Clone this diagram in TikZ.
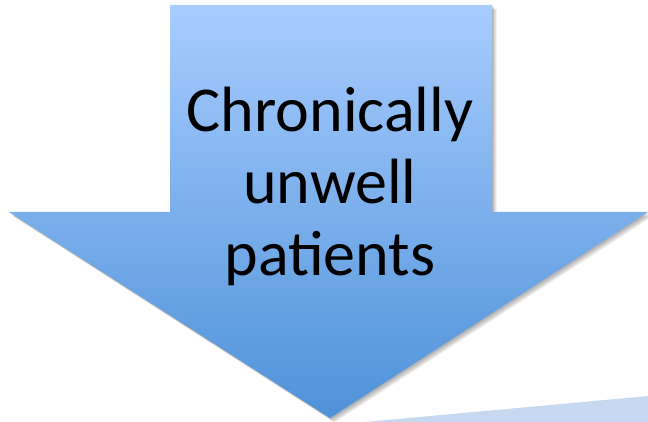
\documentclass[tikz,border=0pt]{standalone}
\usepackage{fontspec}
\setmainfont{Carlito}
\usetikzlibrary{positioning}

\definecolor{arrowtop}{RGB}{168,204,255}
\definecolor{arrowbottom}{RGB}{78,146,216}
\definecolor{nextshape}{RGB}{198,217,241}

\begin{document}
\begin{tikzpicture}[x=1pt, y=-1pt,
    arrowfill/.style = {top color=arrowtop, bottom color=arrowbottom, draw=none},
    arrowshadow/.style = {fill=black, opacity=0.07},
    label/.style = {font=\fontsize{64}{72}\selectfont, align=center, inner sep=0pt}]
    \useasboundingbox (0,0) rectangle (648,422);
    % soft shadow
    \foreach \s in {1,...,5}
        \fill [arrowshadow, shift={(\s*0.9,\s*0.9)}]
            (170,5) -- (492,5) -- (492,212) -- (648,212) -- (330,418)
            -- (9,212) -- (170,212) -- cycle;
    % the arrow
    \path [arrowfill] (170,5) -- (492,5) -- (492,212) -- (648,212) -- (330,418)
        -- (9,212) -- (170,212) -- cycle;
    % corner of the next shape
    \fill [nextshape] (365,422) -- (648,396) -- (648,422) -- cycle;
    \node [label] (patients) at (330,186) {Chronically\\unwell\\patients};
\end{tikzpicture}
\end{document}
